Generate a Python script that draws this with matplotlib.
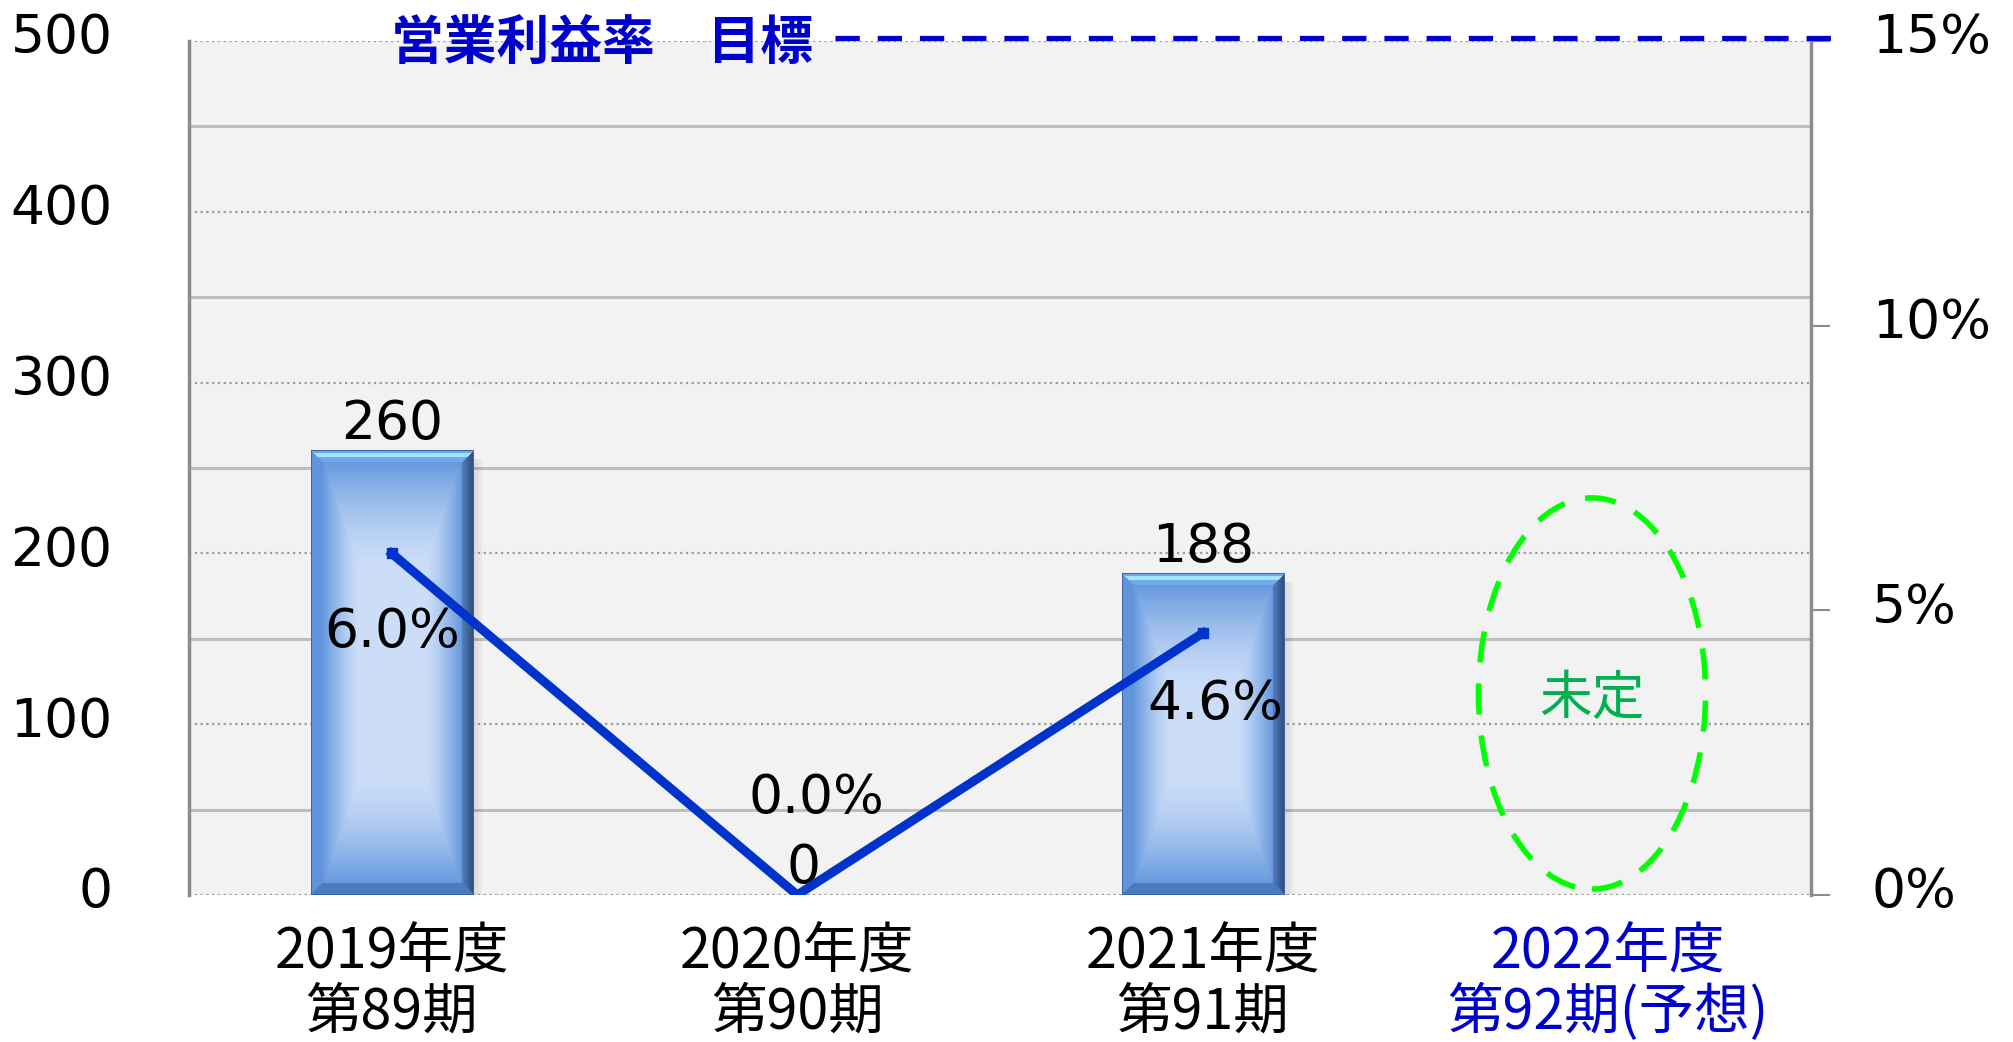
import numpy as np
import matplotlib
matplotlib.use("Agg")
import matplotlib.pyplot as plt
from matplotlib.patches import Ellipse
from matplotlib.transforms import ScaledTranslation

# ---------------- data ----------------
categories = ["2019年度\n第89期", "2020年度\n第90期", "2021年度\n第91期", "2022年度\n第92期(予想)"]
profit = [260, 0, 188, None]            # 営業利益 (left axis)
margin = [6.0, 0.0, 4.6]                 # 営業利益率 % (right axis)
margin_labels = ["6.0%", "0.0%", "4.6%"]
left_ticks = [0, 100, 200, 300, 400, 500]
right_ticks = [0, 5, 10, 15]
right_ticklabels = ["0%", "5%", "10%", "15%"]
target_rate = 15
title_text = "営業利益率　目標"
undecided_text = "未定"

# ---------------- figure ----------------
W, H = 2013, 1042
fig = plt.figure(figsize=(W / 100, H / 100), dpi=100)
L, R, T, B = 189, 1811, 41, 895
ax = fig.add_axes([L / W, 1 - B / H, (R - L) / W, (B - T) / H])
ax.set_facecolor("#F2F2F2")
ax.set_xlim(-0.5, 3.5)
ax.set_ylim(0, 500)
ax2 = ax.twinx()
ax2.set_ylim(0, 15)

CJK = ["Noto Sans CJK JP", "DejaVu Sans"]
NUM = ["DejaVu Sans"]
NUM_FS = 38.5

# gridlines
ax.set_yticks(left_ticks)
ax.set_yticks(np.arange(50, 500, 100), minor=True)
ax.grid(which="major", axis="y", linestyle=(0, (1, 1.6)), color="#9A9A9A", lw=1.6)
ax.grid(which="minor", axis="y", linestyle="-", color="#BDBDBD", lw=2.2)
ax.set_axisbelow(True)
ax.tick_params(axis="y", which="both", length=0, pad=55, labelsize=NUM_FS)

for s in ["top", "bottom", "right"]:
    ax.spines[s].set_visible(False)
ax.spines["left"].set_color("#8C8C8C")
ax.spines["left"].set_linewidth(2.5)
for s in ["top", "bottom", "left"]:
    ax2.spines[s].set_visible(False)
ax2.spines["right"].set_color("#8C8C8C")
ax2.spines["right"].set_linewidth(2.5)

ax2.set_yticks(right_ticks)
ax2.set_yticklabels(right_ticklabels)
ax2.tick_params(axis="y", direction="out", length=13.7, width=1.5, color="#8C8C8C",
                pad=30, labelsize=NUM_FS)

# shift y tick labels slightly upward as in the reference
up = ScaledTranslation(0, 8 / 100, fig.dpi_scale_trans)
for lab in ax.get_yticklabels():
    lab.set_family(NUM)
    lab.set_transform(lab.get_transform() + up)
for lab in ax2.get_yticklabels():
    lab.set_family(NUM)
    lab.set_transform(lab.get_transform() + up)

# x labels
ax.set_xticks(range(len(categories)))
ax.set_xticklabels(categories, family=CJK, fontsize=40, linespacing=1.06)
ax.tick_params(axis="x", length=0, pad=21)
for i, lab in enumerate(ax.get_xticklabels()):
    lab.set_color("#0000CC" if i == 3 else "black")

# ---------------- bars with bevel gradient ----------------
bar_w = 0.4
ax_wpx = R - L
ax_hpx = B - T


def bevel_image(wpx, hpx):
    wpx = max(int(round(wpx)), 2)
    hpx = max(int(round(hpx)), 2)
    xx = np.arange(wpx)[None, :] + 0.5
    yy = np.arange(hpx)[:, None] + 0.5  # row 0 = bottom
    dl = xx * np.ones_like(yy)
    dr = (wpx - xx) * np.ones_like(yy)
    db = yy * np.ones_like(xx)
    dt = (hpx - yy) * np.ones_like(xx)
    light = np.array([0.80, 0.87, 0.975])
    mid = np.array([0.40, 0.60, 0.87])
    fh = np.clip(1 - (np.minimum(dl, dr) - 12) / 36, 0, 1) ** 1.3
    ft = np.clip(1 - (dt - 12) / 110, 0, 1) ** 1.6
    fb = np.clip(1 - (db - 12) / 110, 0, 1) ** 1.6
    f = np.maximum(np.maximum(fh, ft), fb)[..., None]
    img = light + (mid - light) * f
    b = 12
    top = (dt < b) & (dt <= dl) & (dt <= dr)
    bot = (db < b) & (db <= dl) & (db <= dr)
    lef = (dl < b) & (dl < dt) & (dl < db)
    rig = (dr < b) & (dr < dt) & (dr < db)
    img[lef] = [0.38, 0.58, 0.86]
    img[bot] = [0.30, 0.48, 0.76]
    img[top] = [0.45, 0.66, 0.92]
    hl = top & (dt > 3) & (dt < 7)
    img[hl] = [0.62, 0.90, 1.0]
    t = np.clip(dr / b, 0, 1)[..., None]
    dark = np.array([0.17, 0.29, 0.45])
    lr = np.array([0.33, 0.50, 0.76])
    rimg = dark + (lr - dark) * t
    img[rig] = rimg[rig]
    edge = (np.minimum(np.minimum(dl, dr), np.minimum(db, dt)) < 1.5)
    img[edge] = [0.25, 0.40, 0.62]
    return img


for i, v in enumerate(profit):
    if v is None or v <= 0:
        continue
    hpx = v / 500 * ax_hpx
    wpx = bar_w / 4 * ax_wpx
    for k, a in enumerate([0.10, 0.07, 0.04]):
        ax.bar(i + bar_w / 2 + (k + 0.5) * 3 / ax_wpx * 4, v - 3, width=3 / ax_wpx * 4,
               bottom=-2, color="black", alpha=a, zorder=1.5, lw=0)
    ax.imshow(bevel_image(wpx, hpx), extent=(i - bar_w / 2, i + bar_w / 2, 0, v),
              origin="lower", aspect="auto", interpolation="bilinear", zorder=2)

ax.set_xlim(-0.5, 3.5)
ax.set_ylim(0, 500)

# bar value labels
bar_label_dx = [0, 6, 0]
for i, v in enumerate(profit):
    if v is None:
        continue
    ax.annotate(f"{v}", (i, v), xytext=(bar_label_dx[i], 27), textcoords="offset pixels",
                ha="center", va="center", fontsize=NUM_FS, family=NUM, zorder=5)

# ---------------- margin line ----------------
xs = list(range(len(margin)))
ax2.plot(xs, margin, color="#0033CC", lw=6.5, solid_joinstyle="miter", zorder=3)
ax2.plot([xs[0], xs[-1]], [margin[0], margin[-1]], ls="none", marker="s", ms=7.5,
         color="#0033CC", zorder=3)
margin_offsets = [(0, -79), (19, 97), (13, -71)]
for i, (m, lab) in enumerate(zip(margin, margin_labels)):
    ax2.annotate(lab, (i, m), xytext=margin_offsets[i], textcoords="offset pixels",
                 ha="center", va="center", fontsize=NUM_FS, family=NUM, zorder=6)

# ---------------- target line ----------------
ax2.plot([0.398, 1.015], [1.004, 1.004], transform=ax2.transAxes, clip_on=False,
         color="#0000CC", lw=3.8, dashes=(4.6, 3.4), zorder=6)
ax2.text(0.3845, 0.996, title_text, transform=ax2.transAxes, ha="right", va="center",
         fontsize=38, fontweight="bold", color="#0000CC", family=CJK, zorder=6)

# ---------------- undecided ellipse ----------------
ell = Ellipse((2.96, 118), width=0.56, height=229, fill=False, edgecolor="#00FF00",
              lw=4.0, linestyle=(0, (5.6, 3.8)), zorder=4)
ax.add_patch(ell)
ax.text(2.96, 115, undecided_text, ha="center", va="center", fontsize=38,
        color="#00B050", family=CJK, zorder=5)

fig.savefig("out.png", dpi=100, facecolor="white")
